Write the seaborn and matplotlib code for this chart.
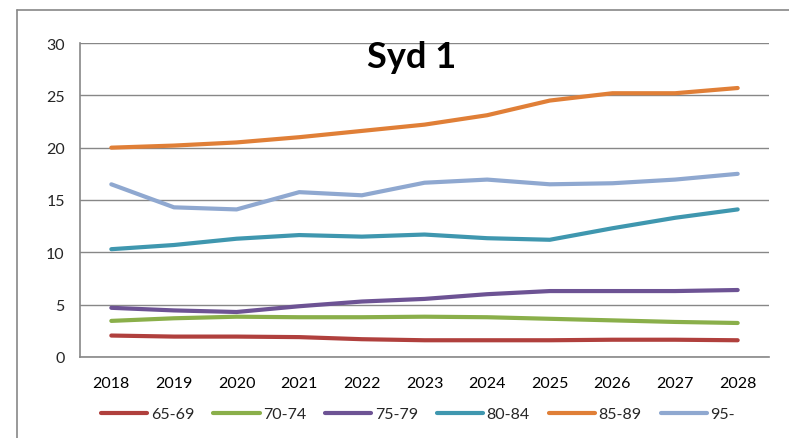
import matplotlib
matplotlib.use("Agg")
import matplotlib.pyplot as plt
from matplotlib.lines import Line2D
import seaborn as sns
import pandas as pd
import numpy as np

years = ["2018", "2019", "2020", "2021", "2022", "2023", "2024", "2025", "2026", "2027", "2028"]
s_65_69 = [2.05, 1.95, 1.95, 1.9, 1.7, 1.6, 1.6, 1.6, 1.65, 1.65, 1.6]
s_70_74 = [3.45, 3.7, 3.85, 3.8, 3.8, 3.85, 3.8, 3.65, 3.5, 3.35, 3.25]
s_75_79 = [4.7, 4.45, 4.3, 4.85, 5.3, 5.55, 6.0, 6.3, 6.3, 6.3, 6.4]
s_80_84 = [10.3, 10.7, 11.3, 11.65, 11.5, 11.7, 11.35, 11.2, 12.3, 13.3, 14.1]
s_85_89 = [20.0, 20.2, 20.5, 21.0, 21.6, 22.2, 23.1, 24.5, 25.2, 25.2, 25.7]
s_95 = [16.5, 14.3, 14.1, 15.75, 15.45, 16.65, 16.95, 16.5, 16.6, 16.95, 17.5]
series_names = ["65-69", "70-74", "75-79", "80-84", "85-89", "95-"]
colors = ["#B0403D", "#8AAF4A", "#6D5394", "#3F97AF", "#E07F37", "#8FA8D0"]
title = "Syd 1"

sns.set_theme(style="white")
plt.rcParams["font.family"] = ["Lato", "DejaVu Sans"]

rows = []
for name, vals in zip(series_names, [s_65_69, s_70_74, s_75_79, s_80_84, s_85_89, s_95]):
    for i, v in enumerate(vals):
        rows.append({"x": i, "year": years[i], "value": v, "series": name})
df = pd.DataFrame(rows)

fig = plt.figure(figsize=(7.89, 4.39), dpi=100)
ax = fig.add_axes([80/789, 1-358/439, (769-80)/789, (358-44)/439])

sns.lineplot(data=df, x="x", y="value", hue="series", palette=colors,
             linewidth=3.0, ax=ax, legend=False, sort=False,
             solid_capstyle="round", solid_joinstyle="round")

ax.set_xlim(-0.5, len(years) - 0.5)
ax.set_ylim(0, 30)
ax.set_yticks([0, 5, 10, 15, 20, 25, 30])
ax.set_xticks(range(len(years)))
ax.set_xticklabels(years)
ax.set_xticks(np.arange(-0.5, len(years), 1.0), minor=True)
ax.tick_params(axis="x", which="major", length=0, pad=14, labelsize=11.5, colors="black")
ax.tick_params(axis="x", which="minor", length=5, width=1, color="#878787", direction="out")
ax.tick_params(axis="y", which="major", length=5, width=1, color="#878787", direction="out",
               labelsize=11.5, pad=6)
ax.set_xlabel("")
ax.set_ylabel("")
ax.yaxis.grid(True, color="#878787", linewidth=1)
ax.set_axisbelow(True)
for s in ["top", "right"]:
    ax.spines[s].set_visible(False)
for s in ["left", "bottom"]:
    ax.spines[s].set_color("#878787")
    ax.spines[s].set_linewidth(1.2)

ax.text(0.5 * (len(years) - 1) - 0.2, 28.7, title, ha="center", va="center",
        fontsize=26, fontweight="bold", color="black")

handles = [Line2D([0], [0], color=c, linewidth=3.0, solid_capstyle="round") for c in colors]
fig.legend(handles, series_names, loc="center", bbox_to_anchor=(418/789, 1-415/439),
           ncol=6, frameon=False, fontsize=11.5, handlelength=2.9, handletextpad=0.2,
           columnspacing=1.2)

fig.add_artist(Line2D([17/789, 17/789], [0, 1-11/439], color="#878787", linewidth=1.2))
fig.add_artist(Line2D([17/789, 1], [1-11/439, 1-11/439], color="#878787", linewidth=1.2))

fig.savefig("out.png", dpi=100)
